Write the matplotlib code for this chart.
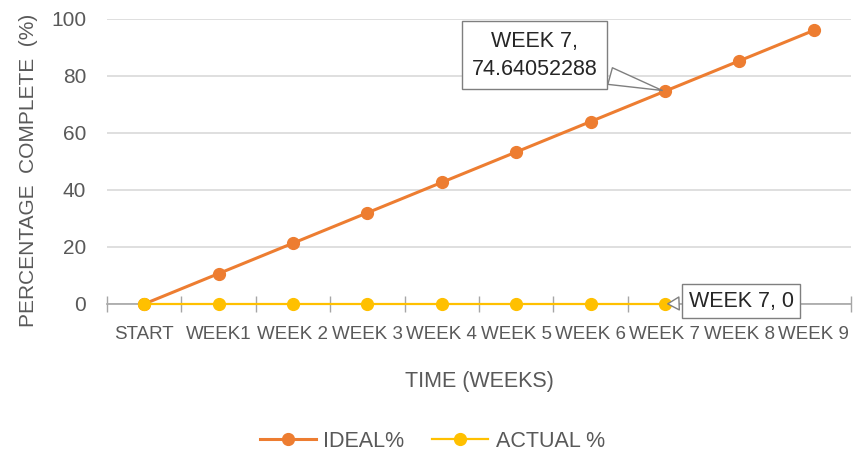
import matplotlib
matplotlib.use("Agg")
import matplotlib.pyplot as plt

categories = ["START", "WEEK1", "WEEK 2", "WEEK 3", "WEEK 4", "WEEK 5",
              "WEEK 6", "WEEK 7", "WEEK 8", "WEEK 9"]
ideal = [0, 10.66, 21.33, 31.99, 42.65, 53.31, 63.98, 74.64052288, 85.30, 95.97]
actual = [0, 0, 0, 0, 0, 0, 0, 0]

plt.rcParams["font.family"] = ["Liberation Sans", "DejaVu Sans"]
grey = "#595959"

fig = plt.figure(figsize=(8.65, 4.51), dpi=100)
ax = fig.add_axes([0.1237, 0.326, 0.86, 0.632])

x = list(range(len(categories)))
ax.plot(x, ideal, color="#ED7D31", linewidth=2.2, marker="o", markersize=8.5,
        label="IDEAL%", zorder=3, clip_on=False)
ax.plot(x[:len(actual)], actual, color="#FFC000", linewidth=1.6, marker="o",
        markersize=8.5, label="ACTUAL %", zorder=4, clip_on=False)

ax.set_xlim(-0.5, len(categories) - 0.5)
ax.set_ylim(0, 100)
ax.set_yticks([0, 20, 40, 60, 80, 100])
ax.grid(axis="y", color="#D9D9D9", linewidth=1.2)
ax.set_axisbelow(True)

ax.set_xticks([i + 0.5 for i in range(-1, len(categories))])
ax.set_xticklabels([])
ax.set_xticks(x, minor=True)
ax.set_xticklabels(categories, minor=True, fontsize=13.5, color=grey)
ax.tick_params(axis="x", which="major", direction="inout", length=11,
               width=1, color="#A6A6A6")
ax.tick_params(axis="x", which="minor", length=0, pad=16)
ax.tick_params(axis="y", length=0, labelsize=15, labelcolor=grey, pad=15)

for s in ["top", "right", "left"]:
    ax.spines[s].set_visible(False)
ax.spines["bottom"].set_color("#A6A6A6")
ax.spines["bottom"].set_linewidth(1.2)
ax.spines["bottom"].set_zorder(1)

ax.set_xlabel("TIME (WEEKS)", fontsize=15.5, color=grey, labelpad=20)
ax.set_ylabel("PERCENTAGE  COMPLETE  (%)", fontsize=15, color=grey)
ax.yaxis.set_label_coords(-0.093, 0.47)

box = dict(boxstyle="square,pad=0.45", facecolor="white", edgecolor="#7F7F7F", linewidth=1)
ax.annotate("WEEK 7,\n74.64052288", xy=(7, ideal[7]), xytext=(-94, 26),
            textcoords="offset points", ha="center", va="center", fontsize=15.5,
            color="#262626", bbox=box, linespacing=1.45,
            arrowprops=dict(arrowstyle="wedge,tail_width=0.8", facecolor="white",
                            edgecolor="#7F7F7F", linewidth=1, shrinkB=2), zorder=6)
ax.annotate("WEEK 7, 0", xy=(7, actual[7]), xytext=(55, 2),
            textcoords="offset points", ha="center", va="center", fontsize=15.5,
            color="#262626", bbox=dict(boxstyle="square,pad=0.3", facecolor="white",
                                       edgecolor="#7F7F7F", linewidth=1),
            arrowprops=dict(arrowstyle="wedge,tail_width=0.6", facecolor="white",
                            edgecolor="#7F7F7F", linewidth=1, shrinkB=2), zorder=6)

fig.legend(loc="center", bbox_to_anchor=(0.5, 0.022), ncol=2, frameon=False,
           fontsize=15.5, labelcolor=grey, handlelength=2.6, handletextpad=0.35,
           columnspacing=1.3)

fig.savefig("out.png", dpi=100)
